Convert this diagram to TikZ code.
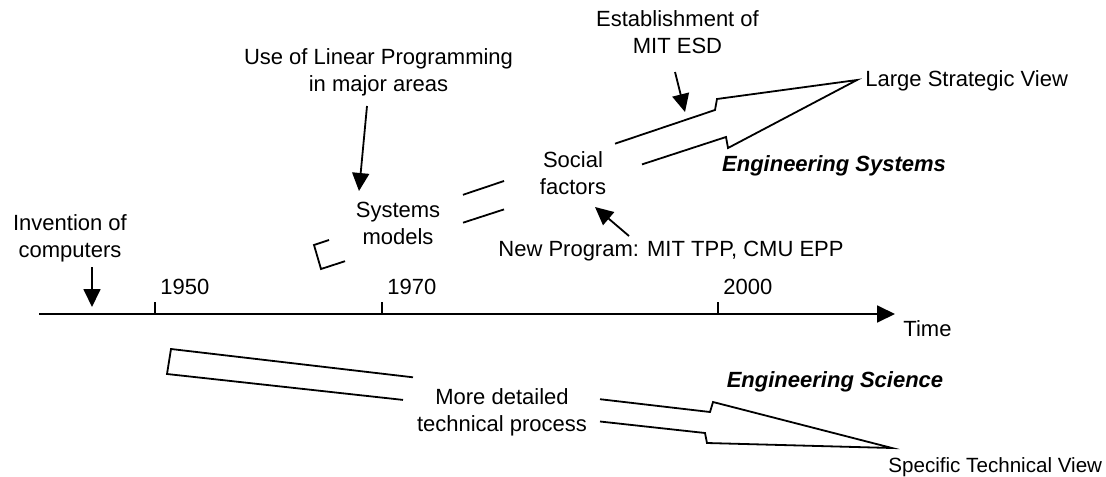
\documentclass[tikz,border=0pt]{standalone}
\usepackage{fontspec}
\setmainfont{Liberation Sans}
\usetikzlibrary{arrows.meta}
\begin{document}
\begin{tikzpicture}[x=0.5pt,y=-0.5pt]
\tikzset{
  lbl/.style={font=\fontsize{11pt}{13.5pt}\selectfont, inner sep=0pt, align=center},
  emph/.style={lbl, font=\fontsize{11pt}{13.5pt}\selectfont\bfseries\itshape},
  outline/.style={line width=0.9pt, line join=miter},
  pointer/.style={line width=0.9pt, -{Triangle[length=9pt,width=8.5pt]}},
}
\useasboundingbox (0,0) rectangle (1106,476);

% time axis with its ticks and years
\coordinate (t0) at (39,314);
\coordinate (t1) at (895,314);
\draw[pointer] (t0) -- (t1);
\foreach \x in {155,382,718} \draw[outline] (\x,314) -- (\x,302);
\node[lbl, anchor=west] (y1950) at (160,287) {1950};
\node[lbl, anchor=west] (y1970) at (387,287) {1970};
\node[lbl, anchor=west] (y2000) at (723,287) {2000};
\node[lbl, anchor=west] (time) at (903,329) {Time};

% labels
\node[lbl] (inv) at (70,238.5) {Invention of\\computers};
\node[lbl] (lp) at (378.5,72.5) {Use of Linear Programming\\in major areas};
\node[lbl] (sys) at (398,223) {Systems\\models};
\node[lbl] (soc) at (573,173) {Social\\factors};
\node[lbl] (esd) at (677.5,32.5) {Establishment of\\MIT ESD};
\node[lbl] (np) at (671,251) {New Program: MIT TPP, CMU EPP};
\node[lbl, anchor=west] (lsv) at (865,81) {Large Strategic View};
\node[emph] (es) at (834,166) {Engineering Systems};
\node[emph] (esc) at (835,382) {Engineering Science};
\node[lbl] (mdt) at (502,412) {More detailed\\technical process};
\node[lbl, anchor=west, font=\fontsize{10.3pt}{12pt}\selectfont] (stv) at (888,467) {Specific Technical View};

% event pointers
\coordinate (invA) at (92,267);   \coordinate (invB) at (92,307);
\coordinate (lpA) at (367,106);   \coordinate (lpB) at (359,191);
\coordinate (esdA) at (675,72);   \coordinate (esdB) at (685,112);
\coordinate (npA) at (629,236);   \coordinate (npB) at (595,207);
\draw[pointer] (invA) -- (invB);
\draw[pointer] (lpA) -- (lpB);
\draw[pointer] (esdA) -- (esdB);
\draw[pointer] (npA) -- (npB);

% broad arrow towards the strategic view, interrupted by the labels
\draw[outline] (329,240) -- (314,245) -- (321,269) -- (345,261.2);
\draw[outline] (463,194.8) -- (504,181.0);
\draw[outline] (463,222.7) -- (504,209.4);
\draw[outline] (615,143.7) -- (715,110) -- (717,99) -- (857,80)
  -- (728,148) -- (726,137) -- (642,164.4);

% broad arrow towards the technical view
\draw[outline] (413,377.3) -- (171,349) -- (167,374) -- (403,399.9);
\draw[outline] (600,399.2) -- (710,412) -- (713,402) -- (892,448)
  -- (707,443) -- (705,433) -- (600,421.5);
\end{tikzpicture}
\end{document}
